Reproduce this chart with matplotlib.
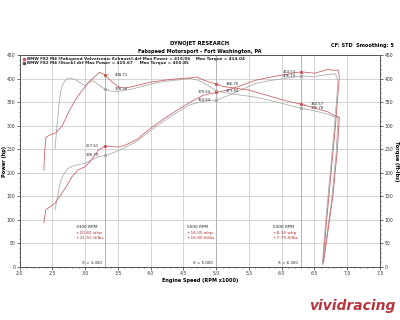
import matplotlib
matplotlib.use('Agg')
import matplotlib.pyplot as plt
from matplotlib.ticker import MultipleLocator

# Fabspeed run (red)
fab_pw_rpm = [2.37, 2.40, 2.47, 2.54, 2.60, 2.70, 2.80, 2.90, 3.00, 3.10, 3.20, 3.30, 3.40, 3.50,
              3.60, 3.80, 4.00, 4.20, 4.40, 4.60, 4.80, 5.00, 5.20, 5.40, 5.60, 5.80, 6.00,
              6.20, 6.30, 6.50, 6.60, 6.70, 6.80, 6.86, 6.88, 6.82, 6.74, 6.68, 6.63]
fab_pw = [94, 122, 128, 136, 148, 168, 192, 207, 213, 228, 248, 257, 256, 255,
          258, 272, 295, 315, 333, 350, 365, 371, 377, 387, 397, 403, 408,
          413, 415, 412, 416, 420, 418, 419, 405, 300, 180, 90, 8]
fab_tq_rpm = [2.37, 2.38, 2.40, 2.45, 2.55, 2.65, 2.75, 2.85, 2.95, 3.05, 3.15, 3.22, 3.30, 3.40,
              3.50, 3.60, 3.70, 3.85, 4.00, 4.20, 4.40, 4.60, 4.70, 4.80, 4.90, 5.00, 5.10,
              5.30, 5.50, 5.70, 5.90, 6.10, 6.30, 6.50, 6.70, 6.80, 6.88, 6.85, 6.78, 6.70, 6.64]
fab_tq = [205, 240, 275, 280, 285, 300, 330, 355, 375, 392, 405, 414, 409, 395,
          384, 380, 383, 388, 393, 397, 400, 402, 404, 398, 393, 389, 384,
          380, 376, 368, 360, 352, 346, 338, 330, 322, 318, 250, 150, 70, 10]

# Stock run (grey)
stk_pw_rpm = [2.54, 2.58, 2.62, 2.67, 2.72, 2.80, 2.90, 3.00, 3.10, 3.20, 3.30, 3.45, 3.60,
              3.80, 4.00, 4.20, 4.40, 4.60, 4.80, 5.00, 5.20, 5.40, 5.60, 5.80, 6.00, 6.20,
              6.30, 6.50, 6.70, 6.82, 6.86, 6.80, 6.72, 6.66, 6.62]
stk_pw = [121, 150, 180, 196, 207, 214, 218, 220, 228, 234, 237, 244, 253,
          268, 290, 310, 328, 345, 352, 355, 365, 378, 390, 396, 400, 404,
          406, 405, 409, 411, 395, 290, 170, 80, 5]
stk_tq_rpm = [2.54, 2.57, 2.60, 2.63, 2.67, 2.72, 2.78, 2.85, 2.95, 3.00, 3.05, 3.12, 3.20, 3.30,
              3.40, 3.50, 3.70, 3.90, 4.10, 4.30, 4.50, 4.60, 4.70, 4.80, 4.90, 5.00, 5.20,
              5.40, 5.60, 5.80, 6.00, 6.20, 6.30, 6.50, 6.70, 6.82, 6.86, 6.83, 6.76, 6.68, 6.62]
stk_tq = [250, 300, 345, 375, 392, 400, 402, 398, 390, 385, 392, 396, 388, 378,
          374, 373, 378, 385, 392, 396, 399, 401, 398, 392, 384, 374, 369,
          365, 361, 355, 348, 341, 337, 332, 325, 318, 320, 240, 140, 60, 5]

cursor_rpm = [3.3, 5.0, 6.3]
cursor_names = ['3300 RPM', '5000 RPM', '6300 RPM']
cursor_x = ['X = 3.300', 'X = 5.000', 'X = 6.300']
gain_hp = ['+20.82 whp', '+16.00 whp', '+8.34 whp']
gain_tq = ['+31.55 ft/lbs', '+16.80 ft/lbs', '+7.79 ft/lbs']

# point labels: (rpm, value, text, run, side)
point_labels = [
    (3.3, 409, '408.71', 'fab', 'r'), (3.3, 378, '378.38', 'stk', 'r'),
    (3.3, 257, '257.61', 'fab', 'l'), (3.3, 237, '236.79', 'stk', 'l'),
    (5.0, 389, '386.70', 'fab', 'r'), (5.0, 374, '373.84', 'stk', 'r'),
    (5.0, 371, '370.64', 'fab', 'l'), (5.0, 355, '354.64', 'stk', 'l'),
    (6.3, 415, '414.53', 'fab', 'l'), (6.3, 406, '406.19', 'stk', 'l'),
    (6.3, 346, '344.57', 'fab', 'r'), (6.3, 337, '336.78', 'stk', 'r'),
]

RED = '#c85a5e'
GREY = '#a8a8a8'
col = {'fab': RED, 'stk': GREY}

fig = plt.figure(figsize=(4, 3.2), dpi=100)
ax = fig.add_axes([0.049, 0.166, 0.901, 0.661])
ax.set_xlim(2.0, 7.5)
ax.set_ylim(0, 450)
ax2 = ax.twinx()
ax2.set_ylim(0, 450)

for a in (ax, ax2):
    a.yaxis.set_major_locator(MultipleLocator(50))
    a.yaxis.set_minor_locator(MultipleLocator(10))
    a.tick_params(labelsize=3.3, length=2, width=0.5, pad=1.2, colors='#333333')
    a.tick_params(which='minor', length=1, width=0.4)
    for s in a.spines.values():
        s.set_color('#555555')
        s.set_linewidth(0.6)
ax.xaxis.set_major_locator(MultipleLocator(0.5))
ax.xaxis.set_minor_locator(MultipleLocator(0.1))
ax.xaxis.set_major_formatter(plt.FormatStrFormatter('%.1f'))
ax.grid(True, color='#cccccc', linewidth=0.6)
ax.set_axisbelow(True)
for x in cursor_rpm:
    ax.axvline(x, color='#b4b4b4', linewidth=0.7, zorder=1)

ax.plot(stk_pw_rpm, stk_pw, color=GREY, linewidth=0.55)
ax2.plot(stk_tq_rpm, stk_tq, color=GREY, linewidth=0.55)
ax.plot(fab_pw_rpm, fab_pw, color=RED, linewidth=0.55)
ax2.plot(fab_tq_rpm, fab_tq, color=RED, linewidth=0.55)

for rpm, val, txt, who, side in point_labels:
    ax.plot([rpm], [val], marker='s', markersize=1.2, color=col[who], linestyle='none')
    if side == 'r':
        ax.annotate(txt, (rpm, val), xytext=(7, 0), textcoords='offset points',
                    fontsize=2.7, va='center', ha='left', color='#222222',
                    arrowprops=dict(arrowstyle='-', lw=0.3, color=col[who]))
    else:
        ax.annotate(txt, (rpm, val), xytext=(-4, 0), textcoords='offset points',
                    fontsize=2.7, va='center', ha='right', color='#222222')

for x, name, xt, hp, tq in zip(cursor_rpm, cursor_names, cursor_x, gain_hp, gain_tq):
    x0 = x - 0.44
    ax.text(x0, 85, name, fontsize=3.1, color='#222222', va='center')
    ax.text(x0, 73, hp, fontsize=3.1, color='#b03030', va='center')
    ax.text(x0, 62, tq, fontsize=3.1, color='#b03030', va='center')
    ax.text(x - 0.05, 9, xt, fontsize=2.9, color='#222222', ha='right', va='center')

ax.set_ylabel('Power (hp)', fontsize=3.6, fontweight='bold')
ax.yaxis.set_label_coords(-0.036, 0.5)
ax2.set_ylabel('Torque (ft-lbs)', fontsize=3.6, rotation=270, va='center', fontweight='bold')
ax2.yaxis.set_label_coords(1.047, 0.5)
ax.set_xlabel('Engine Speed (RPM x1000)', fontsize=3.6, labelpad=1, fontweight='bold')

# legend lines at top of plot
ax.plot([2.07], [443], marker='s', markersize=1.5, color=RED)
ax.plot([2.07], [433], marker='s', markersize=1.5, color='#555555')
ax.text(2.11, 443, 'BMW F82 M4 [Fabspeed Valvetronic Exhaust].drf Max Power = 419.06    Max Torque = 414.04',
        fontsize=2.95, va='center', fontweight='bold', color='#222222')
ax.text(2.11, 433, 'BMW F82 M4 [Stock].drf Max Power = 410.67     Max Torque = 400.85',
        fontsize=2.95, va='center', fontweight='bold', color='#222222')

fig.text(0.5, 0.863, 'DYNOJET RESEARCH', fontsize=3.8, ha='center', va='center', fontweight='bold')
fig.text(0.5, 0.838, 'Fabspeed Motorsport - Fort Washington, PA', fontsize=3.6, ha='center',
         va='center', fontweight='bold')
fig.text(0.985, 0.859, 'CF: STD  Smoothing: 5', fontsize=3.6, ha='right', va='center',
         fontweight='bold')
fig.text(0.99, 0.045, 'vividracing', fontsize=10, ha='right', va='center', color='#b8353d',
         fontweight='bold', style='italic')

fig.savefig('out.png', dpi=100, facecolor='white')
